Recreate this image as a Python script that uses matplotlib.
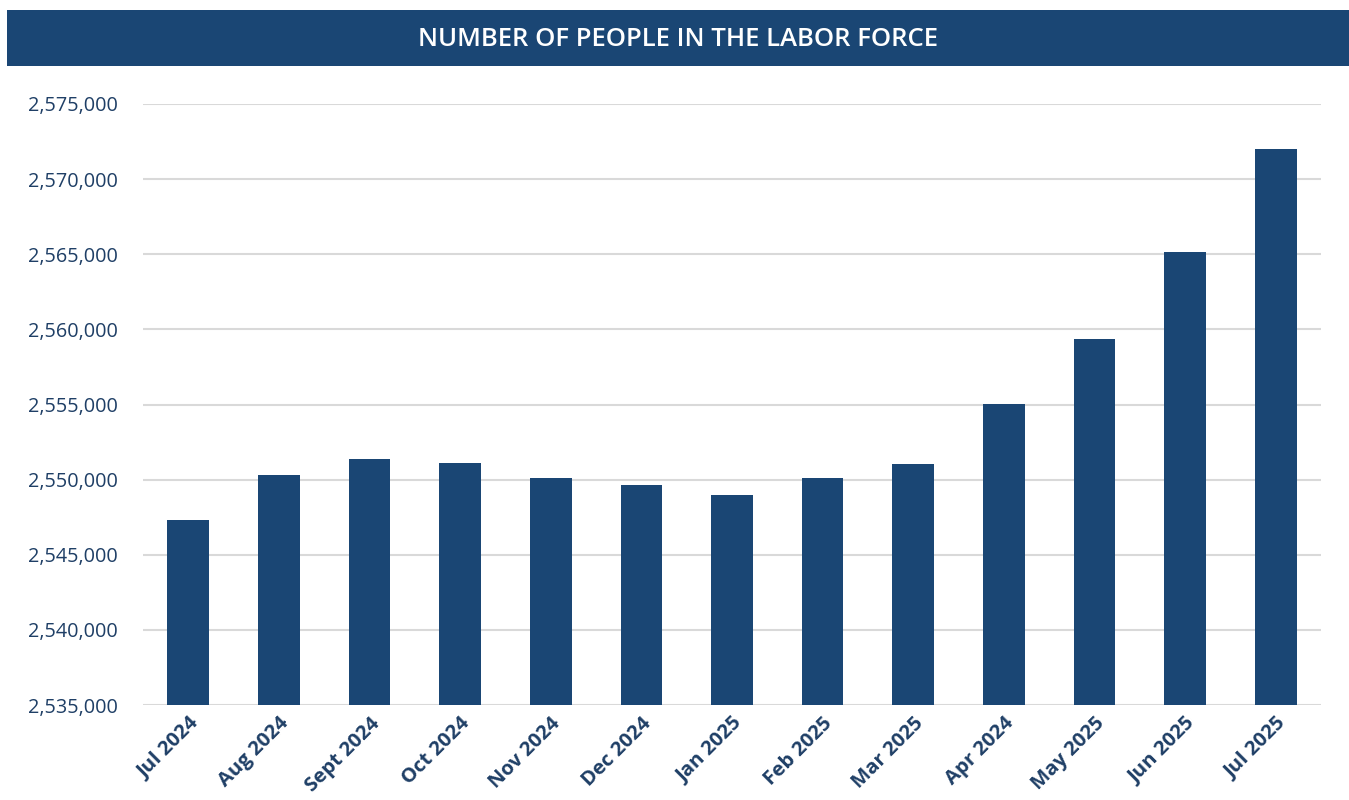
import matplotlib
matplotlib.use("Agg")
import matplotlib.pyplot as plt
from matplotlib.patches import Rectangle
from matplotlib.ticker import FuncFormatter

months = ["Jul 2024", "Aug 2024", "Sept 2024", "Oct 2024", "Nov 2024", "Dec 2024",
          "Jan 2025", "Feb 2025", "Mar 2025", "Apr 2024", "May 2025", "Jun 2025", "Jul 2025"]
labor_force = [2547310, 2550330, 2551360, 2551110, 2550130, 2549620,
               2549000, 2550130, 2551070, 2555050, 2559380, 2565150, 2572020]
yticks = list(range(2535000, 2575001, 5000))

navy = "#1a4674"
text_navy = "#1f3f66"

plt.rcParams['font.family'] = ['Open Sans', 'DejaVu Sans']

fig = plt.figure(figsize=(13.49, 8.0), dpi=100)
fig.patch.set_facecolor("white")

# title banner
fig.patches.append(Rectangle((7/1349, 1-66/800), 1-7/1349, 56/800,
                             transform=fig.transFigure, facecolor=navy,
                             edgecolor="none", zorder=0))
fig.text(678/1349, 1-39/800, "NUMBER OF PEOPLE IN THE LABOR FORCE",
         color="white", fontsize=18.5, fontweight="semibold",
         ha="center", va="center")

ax = fig.add_axes([143/1349, 1-705/800, (1321-143)/1349, (705-104)/800])
x = list(range(len(months)))
ax.bar(x, labor_force, width=0.46, color=navy, zorder=3)
ax.set_xlim(-0.5, len(months)-0.5)
ax.set_ylim(yticks[0], yticks[-1])
ax.set_yticks(yticks)
ax.yaxis.set_major_formatter(FuncFormatter(lambda v, p: f"{int(v):,}"))
ax.grid(axis="y", color="#d9d9d9", linewidth=1.5, zorder=0)
ax.set_axisbelow(True)
for s in ["top", "right", "left", "bottom"]:
    ax.spines[s].set_visible(False)
ax.tick_params(axis="both", length=0)
ax.tick_params(axis="y", labelsize=14.3, labelcolor=text_navy, pad=18)
ax.set_xticks(x)
ax.set_xticklabels(months, rotation=45, ha="right", rotation_mode="anchor",
                   fontsize=14.6, fontweight="bold", color=text_navy)
ax.tick_params(axis="x", pad=6)

fig.savefig("out.png", dpi=100)
